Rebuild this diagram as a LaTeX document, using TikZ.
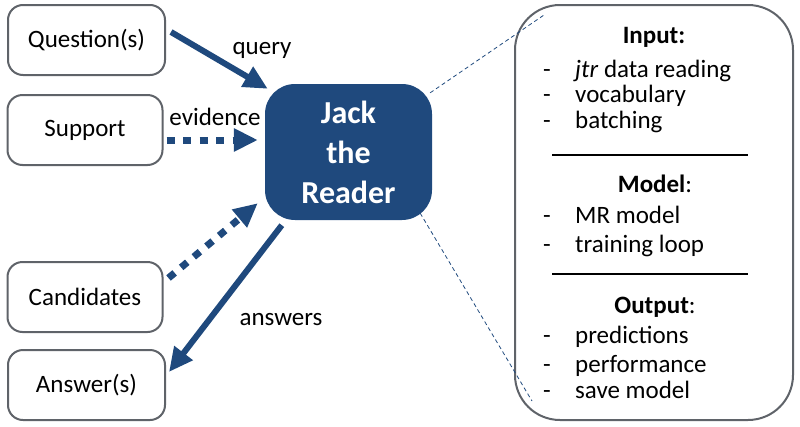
\documentclass[tikz,border=0pt]{standalone}
\usepackage{fontspec}
\setmainfont{Carlito}
\usetikzlibrary{arrows.meta,positioning}

\definecolor{jackblue}{HTML}{1F497D}
\definecolor{boxgray}{HTML}{5F6369}

\begin{document}
\begin{tikzpicture}[x=1pt,y=-1pt,
    every node/.style={font=\fontsize{25}{30}\selectfont},
    inbox/.style={draw=boxgray,line width=2pt,rounded corners=15pt,
      minimum width=155pt,minimum height=70pt,inner sep=0pt},
    reader/.style={fill=jackblue,rounded corners=30pt,text=white,align=center,
      minimum width=167pt,minimum height=136pt,inner sep=0pt,
      font=\fontsize{32}{40}\selectfont\bfseries},
    panel/.style={draw=boxgray,line width=2pt,rounded corners=45pt,
      minimum width=278pt,minimum height=415pt,inner sep=0pt},
    flow/.style={line width=6pt,color=jackblue,
      -{Triangle[length=24pt,width=22pt]}},
    hint/.style={flow,line width=7pt,dash pattern=on 8pt off 8.5pt},
    zoomline/.style={jackblue,line width=0.8pt,dash pattern=on 4pt off 3pt}]
  \useasboundingbox (0,0) rectangle (800,426);

  % inputs and outputs
  \node[inbox,minimum width=157pt] (ques) at (86.5,40) {Question(s)};
  \node[inbox] (supp) at (85,130) {Support};
  \node[inbox] (cand) at (85,297) {Candidates};
  \node[inbox,minimum width=157pt] (answ) at (86.5,385) {Answer(s)};

  \node[reader] (jack) at (348.5,152) {Jack\\the\\Reader};

  % what the reader does
  \node[panel] (info) at (654,212.5) {};

  \draw[flow] ([shift={(5,-8)}]ques.east) -- ([shift={(3,5)}]jack.north west);
  \draw[hint] ([shift={(3,10)}]supp.east) -- ([shift={(-7,-12)}]jack.west);
  \draw[hint] ([shift={(5,-19)}]cand.east) -- ([shift={(-7,-17)}]jack.south west);
  \draw[flow] ([shift={(17,5)}]jack.south west) -- ([shift={(3,-13)}]answ.east);

  \node (lquery) at (262,50) {query};
  \node (levid) at (215,117) {evidence};
  \node (lansw) at (281,320) {answers};

  \draw[zoomline] ([shift={(-2,9)}]jack.north east) -- ([shift={(30,11)}]info.north west);
  \draw[zoomline] ([shift={(-12,-7)}]jack.south east) -- ([shift={(18,-20)}]info.south west);

  % panel contents
  \node[anchor=base] (hin) at (654,43) {\textbf{Input:}};
  \node[anchor=base] (hmod) at (655,192) {\textbf{Model}:};
  \node[anchor=base] (hout) at (655,313) {\textbf{Output}:};
  \draw[line width=1.5pt] (552,155) coordinate (r1a) -- (748,155) coordinate (r1b);
  \draw[line width=1.2pt] (552,274) coordinate (r2a) -- (748,274) coordinate (r2b);
  \foreach \y/\t in {77/{\textit{jtr} data reading},102/vocabulary,128/batching,
      223/MR model,252/training loop,343/predictions,372/performance,398/save model}
  {
    \node[anchor=base,inner sep=0pt] (dash\y) at (547,\y) {-};
    \node[anchor=base west,inner sep=0pt] (item\y) at (575,\y) {\t};
  }
\end{tikzpicture}
\end{document}
